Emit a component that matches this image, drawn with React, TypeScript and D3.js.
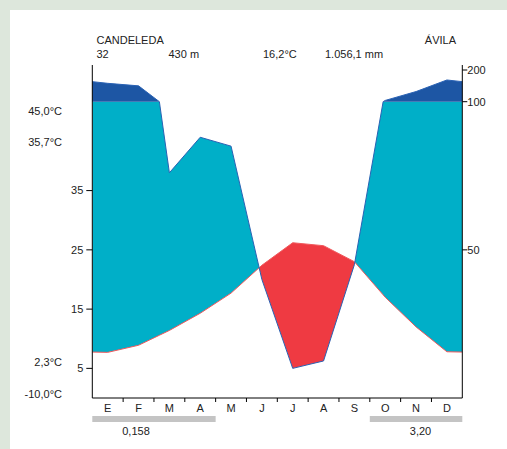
import React from "react";
import * as d3 from "d3";

const months = ["E", "F", "M", "A", "M", "J", "J", "A", "S", "O", "N", "D"];
const temperature = [7.7, 8.9, 11.4, 14.3, 17.7, 22.4, 26.2, 25.7, 23.0, 17.0, 12.0, 7.8];
const precipitation = [158, 150, 76, 88, 85, 40, 10, 12.5, 45, 104, 132, 168.5];
const frostBars = [
  { from: 0, to: 4, label: "0,158", labelX: 136 },
  { from: 9, to: 12, label: "3,20", labelX: 420.5 },
];
const leftTicks = [35, 25, 15, 5];
const rightTicksLow = [50, 100];
const rightTicksHigh = [200];
const extremes = [
  { label: "45,0°C", y: 111 },
  { label: "35,7°C", y: 142.5 },
  { label: "2,3°C", y: 362.5 },
  { label: "-10,0°C", y: 394 },
];
const header = {
  station: "CANDELEDA",
  province: "ÁVILA",
  years: "32",
  altitude: "430 m",
  meanT: "16,2°C",
  totalP: "1.056,1 mm",
};

const W = 507;
const H = 449;
const X0 = 92.3;
const X1 = 462.3;
const Y0 = 398;
const YTOP = 65;
const FONT = "'Liberation Sans', Arial, sans-serif";

export default function App() {
  const x = d3.scaleLinear().domain([0, 12]).range([X0, X1]);
  const yT = d3.scaleLinear().domain([0, 50]).range([Y0, 101.7]);
  const yHigh = d3.scaleLinear().domain([100, 200]).range([101.7, 70]);
  const y100 = yT(50);

  type N = { x: number; T: number; P: number };
  const edgeT = (temperature[11] + temperature[0]) / 2;
  const edgeP = (precipitation[11] + precipitation[0]) / 2;
  const base: N[] = [
    { x: x(0), T: edgeT, P: edgeP },
    ...months.map((_, i) => ({ x: x(i + 0.5), T: temperature[i], P: precipitation[i] })),
    { x: x(12), T: edgeT, P: edgeP },
  ];
  const nodes: N[] = [];
  for (let i = 0; i < base.length; i++) {
    nodes.push(base[i]);
    if (i < base.length - 1) {
      const a = base[i], b = base[i + 1];
      if ((a.P - 100) * (b.P - 100) < 0) {
        const f = (a.P - 100) / (a.P - b.P);
        nodes.push({ x: a.x + f * (b.x - a.x), T: a.T + f * (b.T - a.T), P: 100 });
      }
    }
  }

  const yP2 = (d: N) => yT(d.P / 2);
  const yMix = (d: N) => (d.P > 100 ? yHigh(d.P) : yP2(d));

  const tLine = d3.line<N>().x((d) => d.x).y((d) => yT(d.T))(nodes) || "";
  const pLine = d3.line<N>().x((d) => d.x).y(yMix)(nodes) || "";
  const belowP2 = d3.area<N>().x((d) => d.x).y0(Y0).y1(yP2)(nodes) || "";
  const aboveP2 = d3.area<N>().x((d) => d.x).y0(-2000).y1(yP2)(nodes) || "";
  const aboveT = d3.area<N>().x((d) => d.x).y0(-2000).y1((d) => yT(d.T))(nodes) || "";
  const belowT = d3.area<N>().x((d) => d.x).y0((d) => yT(d.T)).y1(Y0)(nodes) || "";
  const highArea =
    d3.area<N>().x((d) => d.x).y0(y100).y1((d) => (d.P > 100 ? yHigh(d.P) : y100))(nodes) || "";

  const txt = { fontFamily: FONT, fontSize: 11, fill: "#222" } as const;

  return (
    <svg width={W} height={H} style={{ position: "absolute", left: 0, top: 0 }}>
      <defs>
        <clipPath id="cAboveT"><path d={aboveT} /></clipPath>
        <clipPath id="cBelowT"><path d={belowT} /></clipPath>
        <clipPath id="cBelow100"><rect x={X0} y={y100} width={X1 - X0} height={Y0 - y100} /></clipPath>
      </defs>
      <rect x={0} y={0} width={W} height={H} fill="#dde7dc" />
      <rect x={10} y={10} width={W - 10} height={H - 10} fill="#ffffff" />

      <g clipPath="url(#cAboveT)">
        <g clipPath="url(#cBelow100)">
          <path d={belowP2} fill="#00afc8" />
        </g>
      </g>
      <g clipPath="url(#cBelowT)">
        <path d={aboveP2} fill="#ef3a42" />
      </g>
      <path d={highArea} fill="#1d56a4" />
      <path d={tLine} fill="none" stroke="#f0585c" strokeWidth={1} />
      <path d={pLine} fill="none" stroke="#2a62b4" strokeWidth={1} />

      {/* axes */}
      <line x1={X0} x2={X0} y1={YTOP} y2={Y0} stroke="#000" />
      <line x1={X1} x2={X1} y1={YTOP} y2={Y0} stroke="#000" />
      <line x1={X0} x2={X1} y1={Y0} y2={Y0} stroke="#000" />

      {leftTicks.map((t) => (
        <g key={"l" + t}>
          <line x1={X0 - 6} x2={X0} y1={yT(t)} y2={yT(t)} stroke="#000" />
          <text x={X0 - 9} y={yT(t)} dy="0.35em" textAnchor="end" {...txt}>{t}</text>
        </g>
      ))}
      {rightTicksLow.map((t) => (
        <g key={"r" + t}>
          <line x1={X1} x2={X1 + 5} y1={yT(t / 2)} y2={yT(t / 2)} stroke="#000" />
          <text x={X1 + 5} y={yT(t / 2)} dy="0.35em" {...txt}>{t}</text>
        </g>
      ))}
      {rightTicksHigh.map((t) => (
        <g key={"h" + t}>
          <line x1={X1} x2={X1 + 5} y1={yHigh(t)} y2={yHigh(t)} stroke="#000" />
          <text x={X1 + 5} y={yHigh(t)} dy="0.35em" {...txt}>{t}</text>
        </g>
      ))}

      {months.map((m, i) => (
        <text key={"m" + i} x={x(i + 0.5)} y={412} textAnchor="middle" {...txt}>{m}</text>
      ))}
      {d3.range(1, 12).map((i) => (
        <line key={"t" + i} x1={x(i)} x2={x(i)} y1={Y0} y2={Y0 + 4} stroke="#000" />
      ))}

      {frostBars.map((b, i) => (
        <g key={"f" + i}>
          <rect x={x(b.from)} y={416} width={x(b.to) - x(b.from)} height={6} fill="#c4c4c4" />
          <text x={b.labelX} y={435} textAnchor="middle" {...txt}>{b.label}</text>
        </g>
      ))}

      {extremes.map((e) => (
        <text key={e.label} x={62} y={e.y} dy="0.35em" textAnchor="end" {...txt}>{e.label}</text>
      ))}

      <text x={96.5} y={44} {...txt}>{header.station}</text>
      <text x={456} y={44} textAnchor="end" {...txt}>{header.province}</text>
      <text x={96.5} y={58} {...txt}>{header.years}</text>
      <text x={168.5} y={58} {...txt}>{header.altitude}</text>
      <text x={263} y={58} {...txt}>{header.meanT}</text>
      <text x={325} y={58} {...txt}>{header.totalP}</text>
    </svg>
  );
}
